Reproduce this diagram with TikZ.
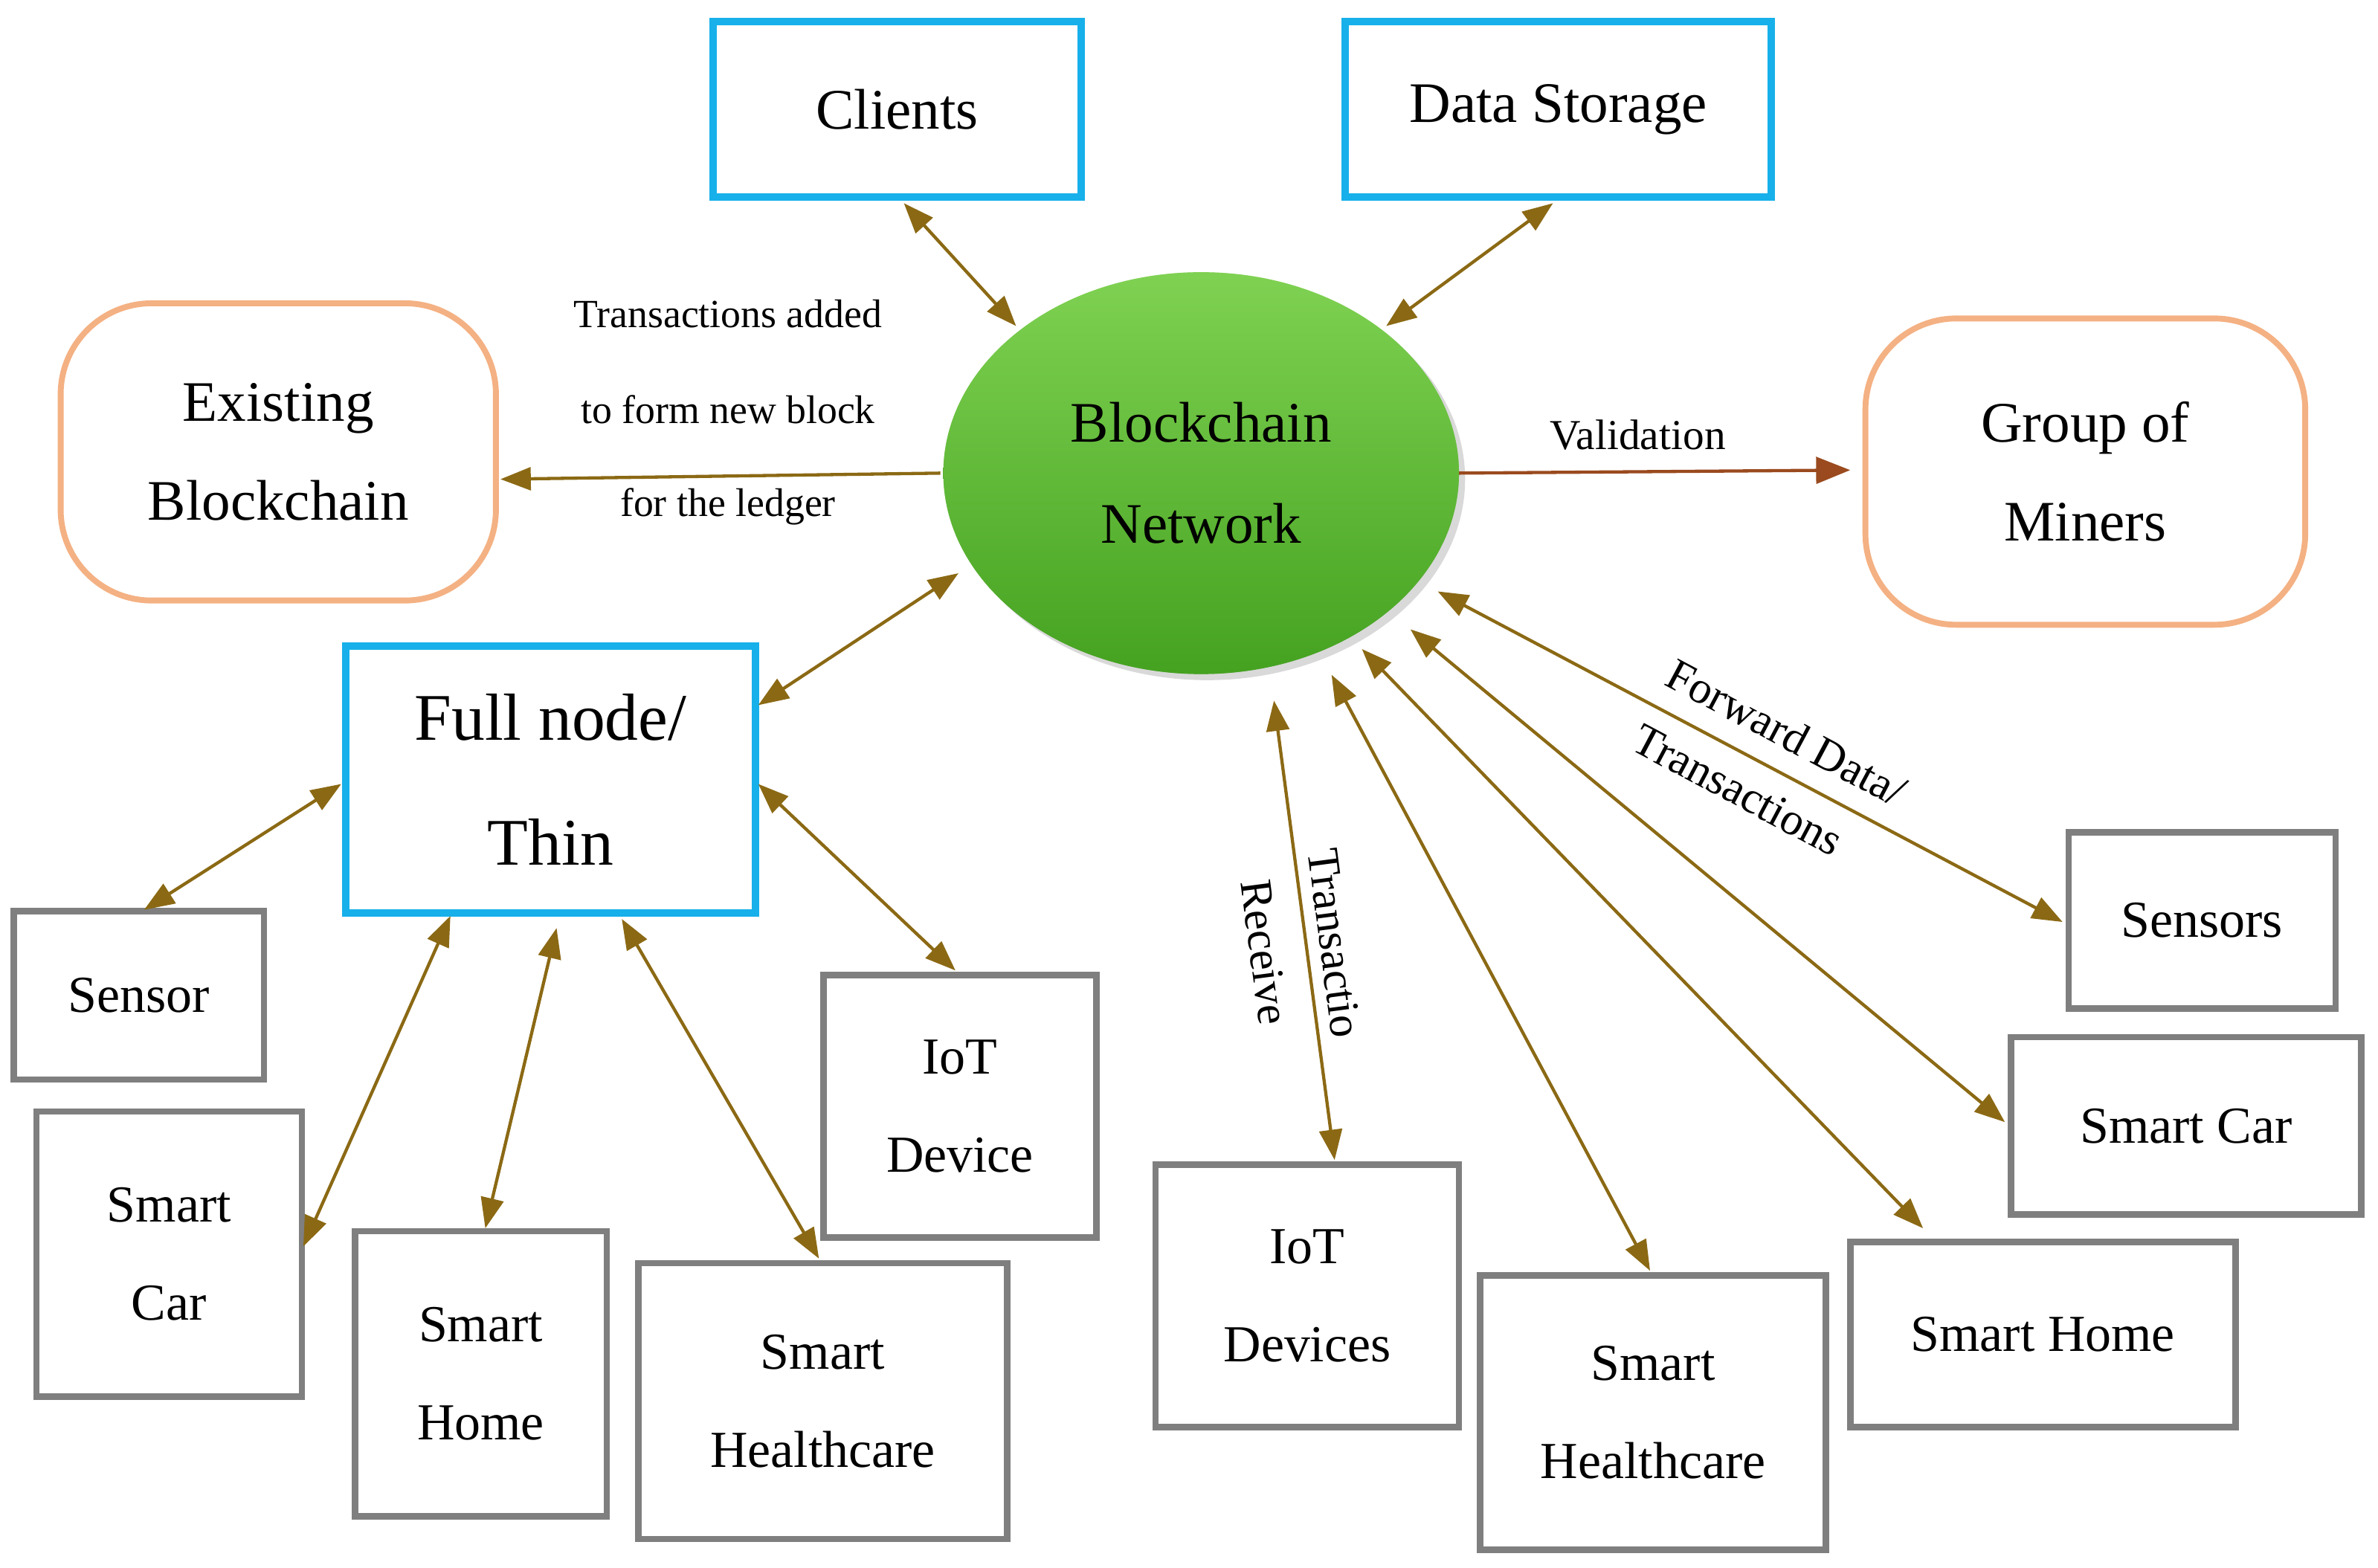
\documentclass[tikz,border=0pt]{standalone}
\usepackage{fontspec}
\setmainfont{Liberation Serif}
\usetikzlibrary{shapes.geometric,arrows.meta,shadows}
\definecolor{cy}{HTML}{17B0EA}
\definecolor{gr}{HTML}{7F7F7F}
\definecolor{og}{HTML}{F4B183}
\definecolor{ol}{HTML}{8B6914}
\definecolor{br}{HTML}{9A4A1E}
\begin{document}
\begin{tikzpicture}[x=0.2mm,y=-0.2mm,
  cbox/.style={draw=cy,line width=2.8pt,fill=white,align=center,font=\fontsize{21.5}{41}\selectfont},
  gbox/.style={draw=gr,line width=2.4pt,fill=white,align=center,font=\fontsize{19.5}{37}\selectfont},
  obox/.style={draw=og,line width=2.2pt,rounded corners=12mm,align=center,font=\fontsize{21.5}{37}\selectfont},
  arr/.style={draw=ol,line width=1.2pt,{Triangle[length=4mm,width=3mm]}-{Triangle[length=4mm,width=3mm]}},
  lab/.style={font=\fontsize{15}{16}\selectfont},
  rlab/.style={font=\fontsize{17}{17}\selectfont,inner sep=1pt}]
\useasboundingbox (0,0) rectangle (1568,1034);
\def\bx#1#2#3#4#5#6{\node[#2,minimum width={(#5-#3)*0.2mm},minimum height={(#6-#4)*0.2mm}] (#1) at ({(#3+#5)/2},{(#4+#6)/2})}
\bx{cl}{cbox}{470}{14}{713}{130} {Clients};
\bx{ds}{cbox}{887}{14}{1168}{130} {Data Storage};
\bx{eb}{obox}{40}{200}{327}{396} {Existing\\Blockchain};
\bx{gm}{obox}{1230}{210}{1520}{412} {Group of\\Miners};
\bx{fn}{cbox,font=\fontsize{25}{47}\selectfont}{228}{426}{498}{602} {Full node/\\Thin};
\bx{s1}{gbox}{9}{601}{174}{712} {Sensor};
\bx{sc1}{gbox}{24}{733}{199}{921} {Smart\\Car};
\bx{sh1}{gbox}{234}{812}{400}{1000} {Smart\\Home};
\bx{hc1}{gbox}{421}{833}{664}{1015} {Smart\\Healthcare};
\bx{io1}{gbox}{543}{643}{723}{816} {IoT\\Device};
\bx{io2}{gbox}{762}{768}{962}{941} {IoT\\Devices};
\bx{hc2}{gbox}{976}{841}{1204}{1022} {Smart\\Healthcare};
\bx{sh2}{gbox}{1220}{819}{1474}{941} {Smart Home};
\bx{sc2}{gbox}{1326}{684}{1557}{801} {Smart Car};
\bx{s2}{gbox}{1364}{549}{1540}{665} {Sensors};
\node[ellipse,minimum width=68mm,minimum height=53mm,top color=green!45!olive!60!white,bottom color=green!45!black!80!olive,
  shading angle=0,drop shadow={opacity=0.3}] (bn) at (792,312) {};
\node[ellipse,minimum width=68mm,minimum height=53mm,fill=green!50!olive!75!white,opacity=0.5,align=center,text opacity=1,font=\fontsize{21.5}{38}\selectfont] (bt) at (792,312) {Blockchain\\Network};
\coordinate (a1) at (596,134); \coordinate (b1) at (670,215);
\coordinate (a2) at (1024,134); \coordinate (b2) at (914,215);
\coordinate (a3) at (620,312); \coordinate (b3) at (330,316);
\coordinate (a4) at (962,312); \coordinate (b4) at (1220,310);
\coordinate (a5) at (500,465); \coordinate (b5) at (632,378);
\coordinate (a6) at (95,600); \coordinate (b6) at (225,517);
\coordinate (a7) at (200,822); \coordinate (b7) at (297,604);
\coordinate (a8) at (320,810); \coordinate (b8) at (367,612);
\coordinate (a9) at (540,830); \coordinate (b9) at (410,606);
\coordinate (a10) at (630,640); \coordinate (b10) at (500,517);
\coordinate (a11) at (880,765); \coordinate (b11) at (840,462);
\coordinate (a12) at (1088,838); \coordinate (b12) at (878,445);
\coordinate (a13) at (1268,810); \coordinate (b13) at (898,428);
\coordinate (a14) at (1322,740); \coordinate (b14) at (930,415);
\coordinate (a15) at (1360,608); \coordinate (b15) at (948,390);
\foreach \i in {1,2,5,6,7,8,9,10,11,12,13,14,15} {\draw[arr] (a\i) -- (b\i);}
\draw[draw=ol,line width=1.2pt,-{Triangle[length=4mm,width=3mm]}] (a3) -- (b3);
\draw[draw=br,line width=1.2pt,-{Triangle[length=4.5mm,width=3.5mm]}] (a4) -- (b4);
\node[lab] at (480,207) {Transactions added};
\node[lab] at (480,270) {to form new block};
\node[lab] at (480,334) {for the ledger};
\node[lab,font=\fontsize{16}{16}\selectfont] at (1080,287) {Validation};
\node[rlab,rotate=-28] at (1178,483) {Forward Data/};
\node[rlab,rotate=-28] at (1146,521) {Transactions};
\node[rlab,rotate=-82.5] at (880,622) {Transactio};
\node[rlab,rotate=-82.5] at (834,628) {Receive};
\end{tikzpicture}
\end{document}
